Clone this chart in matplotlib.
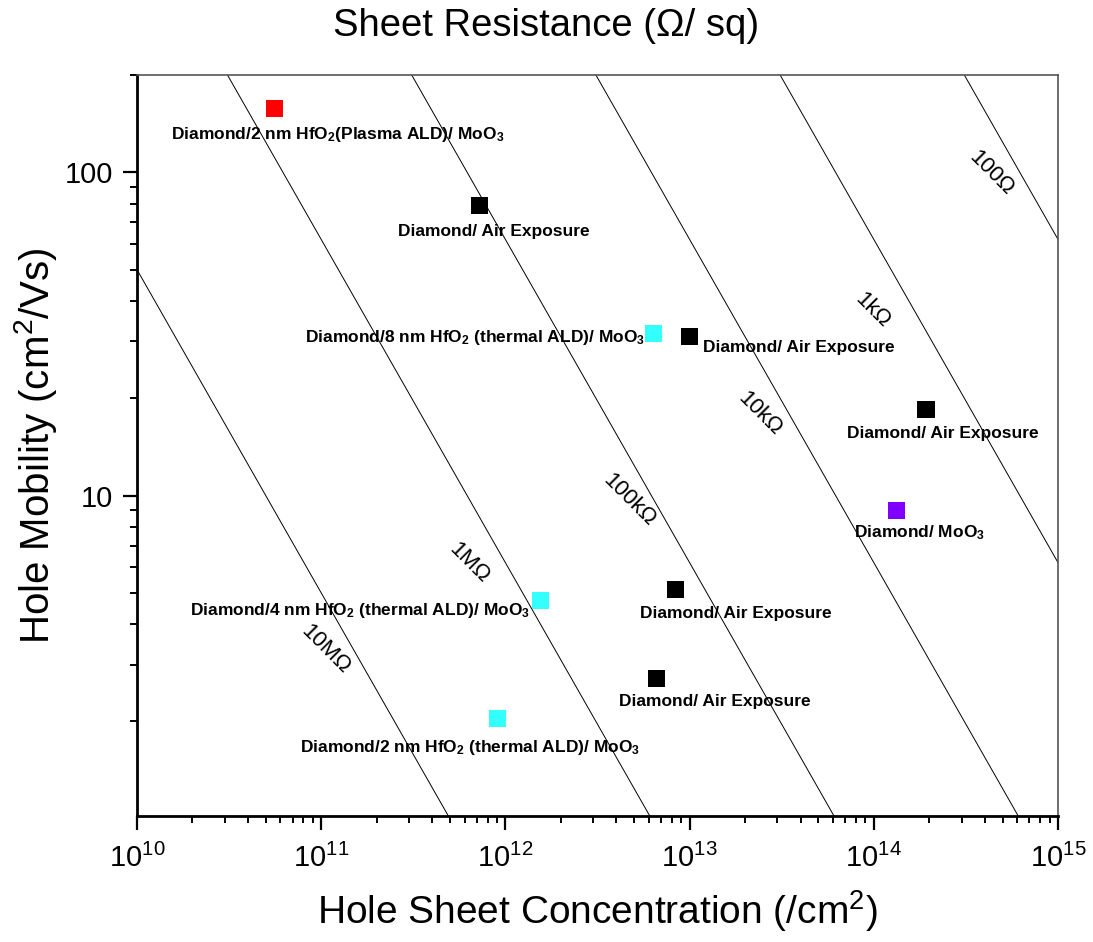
import numpy as np
import matplotlib
matplotlib.use('Agg')
import matplotlib.pyplot as plt
from matplotlib.ticker import NullFormatter, FuncFormatter

plt.rcParams['font.family'] = ['Liberation Sans', 'DejaVu Sans']
plt.rcParams['mathtext.fontset'] = 'custom'
plt.rcParams['mathtext.rm'] = 'Liberation Sans'
plt.rcParams['mathtext.it'] = 'Liberation Sans:italic'
plt.rcParams['mathtext.bf'] = 'Liberation Sans:bold'
plt.rcParams['mathtext.default'] = 'regular'

# samples: hole sheet concentration (/cm2), mobility (cm2/Vs)
conc = [5.6e10, 7.2e11, 6.4e12, 1.0e13, 1.92e14, 1.32e14, 1.56e12, 8.4e12, 6.6e12, 9.1e11]
mobility = [158, 79, 31.8, 31, 18.4, 9.0, 4.74, 5.13, 2.72, 2.04]
colors = ['#ff0000', '#000000', '#33ffff', '#000000', '#000000', '#8000ff',
          '#33ffff', '#000000', '#000000', '#33ffff']
names = ['Diamond/2 nm HfO$_2$(Plasma ALD)/ MoO$_3$',
         'Diamond/ Air Exposure',
         'Diamond/8 nm HfO$_2$ (thermal ALD)/ MoO$_3$',
         'Diamond/ Air Exposure',
         'Diamond/ Air Exposure',
         'Diamond/ MoO$_3$',
         'Diamond/4 nm HfO$_2$ (thermal ALD)/ MoO$_3$',
         'Diamond/ Air Exposure',
         'Diamond/ Air Exposure',
         'Diamond/2 nm HfO$_2$ (thermal ALD)/ MoO$_3$']

# constant sheet resistance lines: mobility * concentration = const
rs_labels = ['100Ω', '1kΩ', '10kΩ', '100kΩ', '1MΩ', '10MΩ']
rs_const = [6.2e16, 6.2e15, 6.2e14, 6.2e13, 6.2e12, 5.0e11]

fig = plt.figure(figsize=(10.93, 9.42), dpi=100)
ax = fig.add_axes([0.1253, 0.1338, 0.8427, 0.7866])
ax.set_xscale('log')
ax.set_yscale('log')
ax.set_xlim(1e10, 1e15)
ax.set_ylim(1.02, 200)

p = np.logspace(9, 16, 400)
for c in rs_const:
    ax.plot(p, c / p, color='black', lw=0.7)

lab_x = [4.35e14, 9.84e13, 2.39e13, 4.72e12, 6.38e11, 1.05e11]
lab_y = [99, 37.3, 17.9, 9.65, 6.17, 3.33]
for t, x, y in zip(rs_labels, lab_x, lab_y):
    ax.text(x, y, t, rotation=-45, ha='center', va='center', fontsize=16,
            rotation_mode='anchor')

ax.scatter(conc, mobility, marker='s', s=150, c=colors, zorder=3, linewidths=0)

# label offsets in pixels (dx, dy) and alignment
offs = [(63, -26, 'center'), (15, -26, 'center'), (-9, -4, 'right'), (13, -11, 'left'),
        (17, -24, 'center'), (23, -22, 'center'), (-11, -10, 'right'), (60, -24, 'center'),
        (58, -23, 'center'), (-28, -29, 'center')]
for x, y, t, (dx, dy, ha) in zip(conc, mobility, names, offs):
    ax.annotate(t, (x, y), xytext=(dx, dy), textcoords='offset pixels',
                ha=ha, va='center', fontsize=12.5, fontweight='bold')

for s in ['left', 'bottom']:
    ax.spines[s].set_linewidth(2)
    ax.spines[s].set_color('black')
for s in ['top', 'right']:
    ax.spines[s].set_linewidth(1.2)
    ax.spines[s].set_color('#555555')

ax.tick_params(which='major', direction='out', length=10, width=1.6, labelsize=21)
ax.tick_params(which='minor', direction='out', length=5, width=1.4)
ax.tick_params(axis='x', which='major', pad=10)
ax.tick_params(axis='y', which='major', pad=7)
ax.yaxis.set_major_formatter(FuncFormatter(lambda v, pos: '%g' % v))
ax.yaxis.set_minor_formatter(NullFormatter())

ax.set_xlabel('Hole Sheet Concentration (/cm$^2$)', fontsize=28, labelpad=11)
ax.set_ylabel('Hole Mobility (cm$^2$/Vs)', fontsize=29, labelpad=4)
fig.text(0.5, 0.972, 'Sheet Resistance (Ω/ sq)', ha='center', va='center', fontsize=27.5)

fig.savefig('out.png', dpi=100)
